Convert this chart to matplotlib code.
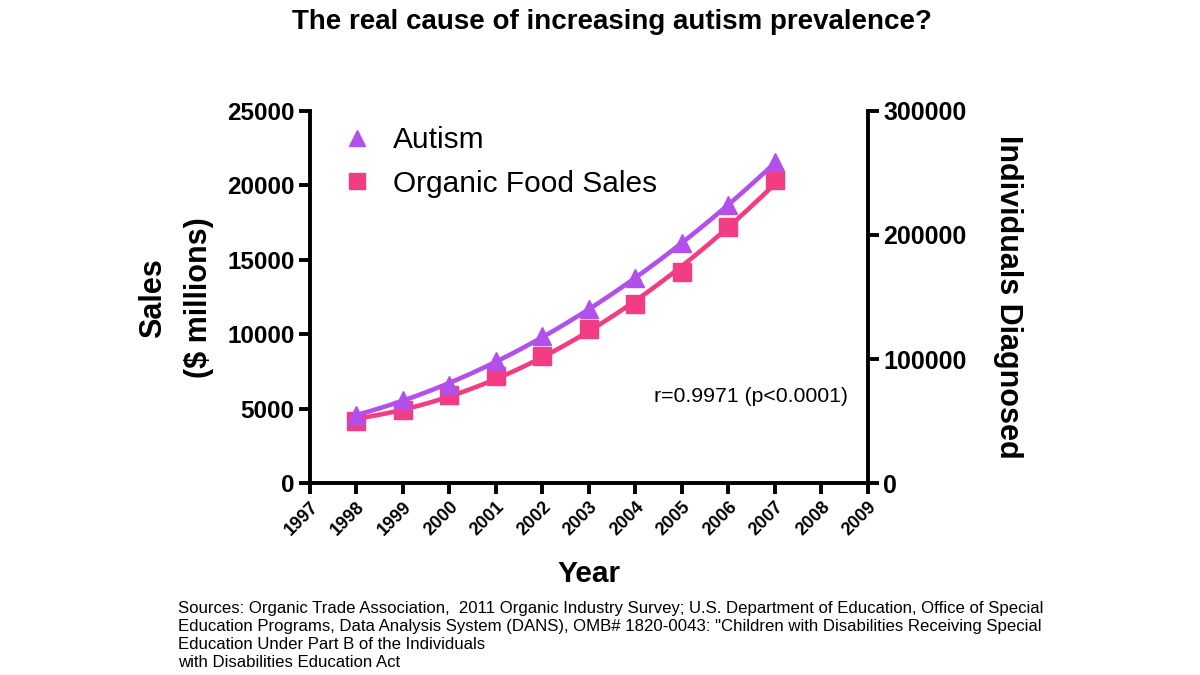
#!/usr/bin/env python3
"""Dual-axis chart: autism diagnoses vs organic food sales, 1998-2007."""

import matplotlib.pyplot as plt
import numpy as np
from matplotlib.lines import Line2D

plt.rcParams["font.family"] = ["Liberation Sans", "DejaVu Sans"]

YEARS = [1998, 1999, 2000, 2001, 2002, 2003, 2004, 2005, 2006, 2007]
ORGANIC_SALES = [4200, 4900, 5950, 7200, 8550, 10350, 12050, 14150, 17200, 20350]
AUTISM_DIAGNOSED = [55100, 67200, 79300, 98100, 118300, 140400, 165500, 193700, 223800, 258300]

YEAR_TICKS = list(range(1997, 2010))
LEFT_TICKS = [0, 5000, 10000, 15000, 20000, 25000]
RIGHT_TICKS = [0, 100000, 200000, 300000]

AUTISM_COLOR = "#b250ec"
ORGANIC_COLOR = "#f23d85"

SOURCE_TEXT = (
    "Sources: Organic Trade Association,  2011 Organic Industry Survey; U.S. Department of Education, Office of Special\n"
    "Education Programs, Data Analysis System (DANS), OMB# 1820-0043: \"Children with Disabilities Receiving Special\n"
    "Education Under Part B of the Individuals\n"
    "with Disabilities Education Act"
)


def fit_curve(x, y, deg=2):
    coef = np.polyfit(np.asarray(x) - x[0], y, deg)
    xs = np.linspace(x[0], x[-1], 200)
    return xs, np.polyval(coef, xs - x[0])


def main() -> None:
    fig = plt.figure(figsize=(12, 6.75), dpi=100)
    ax = fig.add_axes([0.2583, 0.284, 0.465, 0.552])
    ax2 = ax.twinx()

    # organic sales on left axis
    xs, ys = fit_curve(YEARS, ORGANIC_SALES)
    ax.plot(xs, ys, color=ORGANIC_COLOR, linewidth=3.3, zorder=3)
    ax.plot(YEARS, ORGANIC_SALES, "s", color=ORGANIC_COLOR, markersize=12.5, zorder=4)

    # autism on right axis
    xs, ys = fit_curve(YEARS, AUTISM_DIAGNOSED)
    ax2.plot(xs, ys, color=AUTISM_COLOR, linewidth=3.3, zorder=3)
    ax2.plot(YEARS, AUTISM_DIAGNOSED, "^", color=AUTISM_COLOR, markersize=12.5, zorder=4)

    ax.set_xlim(1997, 2009)
    ax.set_ylim(0, 25000)
    ax2.set_ylim(0, 300000)
    ax.set_xticks(YEAR_TICKS)
    ax.set_xticklabels([str(y) for y in YEAR_TICKS], rotation=45, ha="right",
                       rotation_mode="anchor", fontsize=13, fontweight="bold")
    ax.set_yticks(LEFT_TICKS)
    ax.set_yticklabels([str(v) for v in LEFT_TICKS], fontsize=17.5, fontweight="bold")
    ax2.set_yticks(RIGHT_TICKS)
    ax2.set_yticklabels([str(v) for v in RIGHT_TICKS], fontsize=18, fontweight="bold")

    for a in (ax, ax2):
        a.spines["top"].set_visible(False)
        for side in ("left", "right", "bottom"):
            a.spines[side].set_linewidth(2.8)
        a.tick_params(width=2.8, length=8, pad=3)
    ax.spines["right"].set_visible(False)
    ax2.spines["left"].set_visible(False)
    ax2.spines["bottom"].set_visible(False)

    ax.set_xlabel("Year", fontsize=21.5, fontweight="bold")
    ax.xaxis.set_label_coords(0.5, -0.205)

    fig.text(176 / 1200, 1 - 298 / 675, "Sales\n($ millions)", rotation=90,
             ha="center", va="center", multialignment="center",
             fontsize=22, fontweight="bold", linespacing=1.7)
    fig.text(1008 / 1200, 1 - 297 / 675, "Individuals Diagnosed", rotation=-90,
             ha="center", va="center", fontsize=22, fontweight="bold")

    handles = [
        Line2D([], [], marker="^", linestyle="none", color=AUTISM_COLOR, markersize=11.5),
        Line2D([], [], marker="s", linestyle="none", color=ORGANIC_COLOR, markersize=11.5),
    ]
    ax.legend(handles, ["Autism", "Organic Food Sales"], loc="upper left",
              bbox_to_anchor=(0.009, 1.031), frameon=False, fontsize=21.5,
              handlelength=1.0, handletextpad=0.7, labelspacing=0.53)

    ax.text(0.965, 0.233, "r=0.9971 (p<0.0001)", transform=ax.transAxes,
            ha="right", va="center", fontsize=15.3)

    fig.text(0.51, 0.968, "The real cause of increasing autism prevalence?",
             ha="center", va="center", fontsize=20, fontweight="bold")
    fig.text(0.148, 0.109, SOURCE_TEXT, ha="left", va="top", fontsize=12.1,
             linespacing=1.25)

    fig.savefig("out.png", dpi=100, facecolor="white")
    plt.close(fig)


if __name__ == "__main__":
    main()
